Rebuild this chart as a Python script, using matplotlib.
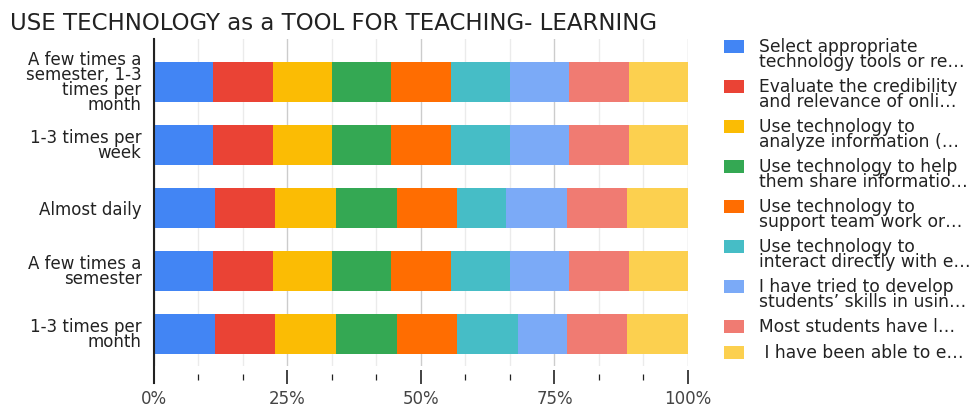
import numpy as np
import matplotlib.pyplot as plt
from matplotlib.patches import Rectangle

W, H = 979, 407

# --------------------------------------------------------------------------- #
# Data (counts per frequency group)
# --------------------------------------------------------------------------- #
categories = [
    "A few times a\nsemester, 1-3\ntimes per\nmonth",
    "1-3 times per\nweek",
    "Almost daily",
    "A few times a\nsemester",
    "1-3 times per\nmonth",
]

series_labels = [
    "Select appropriate\ntechnology tools or re\u2026",
    "Evaluate the credibility\nand relevance of onli\u2026",
    "Use technology to\nanalyze information (\u2026",
    "Use technology to help\nthem share informatio\u2026",
    "Use technology to\nsupport team work or\u2026",
    "Use technology to\ninteract directly with e\u2026",
    "I have tried to develop\nstudents\u2019 skills in usin\u2026",
    "Most students have l\u2026",
    " I have been able to e\u2026",
]

select_tools   = [5, 5, 5, 5, 5]
evaluate_cred  = [5, 5, 5, 5, 5]
analyze_info   = [5, 5, 5, 5, 5]
share_info     = [5, 5, 5, 5, 5]
team_work      = [5, 5, 5, 5, 5]
interact       = [5, 5, 4, 5, 5]
develop_skills = [5, 5, 5, 5, 4]
most_students  = [5, 5, 5, 5, 5]
able_to        = [5, 5, 5, 5, 5]

series = [select_tools, evaluate_cred, analyze_info, share_info, team_work,
          interact, develop_skills, most_students, able_to]

colors = ["#4285F4", "#EA4335", "#FBBC04", "#34A853", "#FF6D01",
          "#46BDC6", "#7BAAF7", "#F07B72", "#FCD04F"]

counts = np.array(series, dtype=float)
shares = counts / counts.sum(axis=0) * 100

# --------------------------------------------------------------------------- #
# Figure
# --------------------------------------------------------------------------- #
plt.rcParams["font.family"] = ["DejaVu Sans"]

fig = plt.figure(figsize=(W / 100, H / 100), dpi=100)
ax = fig.add_axes([154 / W, 1 - 366 / H, (688 - 154) / W, (366 - 39) / H])

y = np.arange(len(categories))
left = np.zeros(len(categories))
for vals, color in zip(shares, colors):
    ax.barh(y, vals, left=left, height=0.635, color=color, zorder=3)
    left += vals

ax.set_xlim(0, 100)
ax.set_ylim(4.508, -0.683)

ax.set_yticks(y)
ax.set_yticklabels(categories, linespacing=0.8)
ax.tick_params(axis="y", length=0, pad=9, labelsize=12, labelcolor="#222222")

major = [0, 25, 50, 75, 100]
minor = [v for v in np.arange(0, 100.1, 100 / 12) if min(abs(v - m) for m in major) > 1e-6]
ax.set_xticks(major)
ax.set_xticklabels([f"{m}%" for m in major])
ax.set_xticks(minor, minor=True)
ax.grid(which="major", axis="x", color="#cccccc", lw=1, zorder=0)
ax.grid(which="minor", axis="x", color="#ebebeb", lw=1, zorder=0)

for s in ax.spines.values():
    s.set_visible(False)
ax.spines["bottom"].set_position(("outward", 8))
ax.tick_params(axis="x", which="major", direction="inout", length=10, width=1.2,
               color="#222222", labelsize=12, labelcolor="#444444", pad=4)
ax.tick_params(axis="x", which="minor", direction="inout", length=5, width=0.9,
               color="#222222")
ax.axvline(0, ymin=-0.052, ymax=1, color="#222222", lw=1.5, clip_on=False, zorder=4)

fig.text(10 / W, 1 - 30 / H, "USE TECHNOLOGY as a TOOL FOR TEACHING- LEARNING",
         fontsize=16.5, color="#222222", va="baseline", ha="left")

# legend, drawn by hand so squares line up with the first text line
y_px = 40
for lab, color in zip(series_labels, colors):
    fig.add_artist(Rectangle((724 / W, 1 - (y_px + 13) / H), 20 / W, 13 / H,
                             transform=fig.transFigure, facecolor=color,
                             edgecolor="none"))
    fig.text(759 / W, 1 - (y_px - 2) / H, lab, fontsize=12.3, color="#222222",
             va="top", ha="left", linespacing=0.82)
    y_px += 40 if "\n" in lab else 26

fig.savefig("out.png", dpi=100)
